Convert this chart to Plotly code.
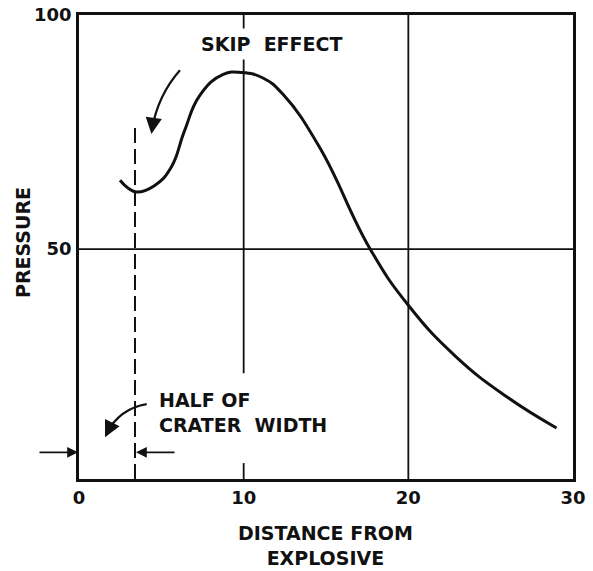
import plotly.graph_objects as go

# Pressure profile versus distance from the explosive
distance = [2.49, 2.99, 3.50, 4.6, 5.6, 6.4, 7.35, 8.76, 9.9, 11.2, 12.4, 14.6,
            17.67, 20.0, 22.9, 26.0, 29.0]
pressure = [64.7, 63.0, 62.2, 63.6, 67.5, 75.2, 82.9, 87.3, 87.7, 86.5, 83.0, 71.8,
            50.1, 38.0, 27.0, 18.4, 11.8]

x_ticks = [0, 10, 20, 30]
y_ticks = [50, 100]
crater_half_width = 3.4

INK = "#111111"
FONT = dict(family="DejaVu Sans", size=19, color=INK, weight="bold")
TICK_FONT = dict(family="DejaVu Sans", size=18, color=INK, weight="bold")

fig = go.Figure()
fig.add_trace(go.Scatter(
    x=distance, y=pressure, mode="lines",
    line=dict(color=INK, width=3, shape="spline", smoothing=1.3),
    hoverinfo="skip", showlegend=False,
))

shapes = [
    # grid lines
    dict(type="line", xref="x", yref="y", x0=10, x1=10, y0=23.5, y1=100,
         line=dict(color=INK, width=1.8)),
    dict(type="line", xref="x", yref="y", x0=10, x1=10, y0=0.9, y1=4.3,
         line=dict(color=INK, width=1.8)),
    dict(type="line", xref="x", yref="y", x0=20, x1=20, y0=0.9, y1=100,
         line=dict(color=INK, width=1.8)),
    dict(type="line", xref="x", yref="y", x0=0, x1=30, y0=50, y1=50,
         line=dict(color=INK, width=1.8)),
    # crater edge
    dict(type="line", xref="x", yref="y", x0=crater_half_width, x1=crater_half_width,
         y0=0.9, y1=76.9, line=dict(color=INK, width=2, dash="15px,6px")),
    # curved arrow shafts
    dict(type="path", xref="x", yref="y", path="M 6.13,88.2 Q 4.80,82.9 4.42,75.5",
         line=dict(color=INK, width=2.2)),
    dict(type="path", xref="x", yref="y", path="M 4.11,16.9 Q 2.49,16.0 1.65,10.6",
         line=dict(color=INK, width=2.2)),
]

annotations = [
    dict(x=11.72, y=93.8, xref="x", yref="y", text="SKIP  EFFECT", showarrow=False,
         font=FONT, bgcolor="white", borderpad=4),
    dict(x=4.74, y=15.1, xref="x", yref="y", text="HALF OF<br>CRATER  WIDTH",
         showarrow=False, font=FONT, xanchor="left", yanchor="middle", align="left"),
    dict(x=0.498, y=-0.143, xref="paper", yref="paper",
         text="DISTANCE FROM<br>EXPLOSIVE", showarrow=False, font=FONT,
         align="center", xanchor="center", yanchor="middle"),
    dict(x=-0.113, y=0.509, xref="paper", yref="paper", text="PRESSURE",
         showarrow=False, font=FONT, textangle=-90, xanchor="center",
         yanchor="middle"),
    # arrowheads
    dict(x=4.40, y=74.6, xref="x", yref="y", text="", showarrow=True, arrowhead=2,
         arrowsize=1.3, arrowwidth=2.5, arrowcolor=INK, ax=2, ay=-14, standoff=0),
    dict(x=1.58, y=9.83, xref="x", yref="y", text="", showarrow=True, arrowhead=2,
         arrowsize=1.3, arrowwidth=2.5, arrowcolor=INK, ax=6, ay=-12, standoff=0),
    dict(x=0, y=6.6, xref="x", yref="y", text="", showarrow=True, arrowhead=2,
         arrowsize=1.2, arrowwidth=1.8, arrowcolor=INK, ax=-41, ay=0, standoff=1),
    dict(x=crater_half_width, y=6.6, xref="x", yref="y", text="", showarrow=True,
         arrowhead=2, arrowsize=1.2, arrowwidth=1.8, arrowcolor=INK, ax=41, ay=0,
         standoff=1),
]

fig.update_layout(
    width=593, height=571, autosize=False,
    margin=dict(l=79, r=20, t=15, b=92, autoexpand=False),
    paper_bgcolor="white", plot_bgcolor="white",
    shapes=shapes, annotations=annotations,
    font=FONT,
    xaxis=dict(range=[0, 30], tickvals=x_ticks, ticks="", showgrid=False,
               zeroline=False, showline=True, mirror=True, linecolor=INK,
               linewidth=2.5, tickfont=TICK_FONT, ticklabelstandoff=1,
               automargin=False),
    yaxis=dict(range=[0.9, 100], tickvals=y_ticks, ticks="", showgrid=False,
               zeroline=False, showline=True, mirror=True, linecolor=INK,
               linewidth=2.5, tickfont=TICK_FONT, ticklabelstandoff=1,
               automargin=False),
)

fig.write_html("out.html")
